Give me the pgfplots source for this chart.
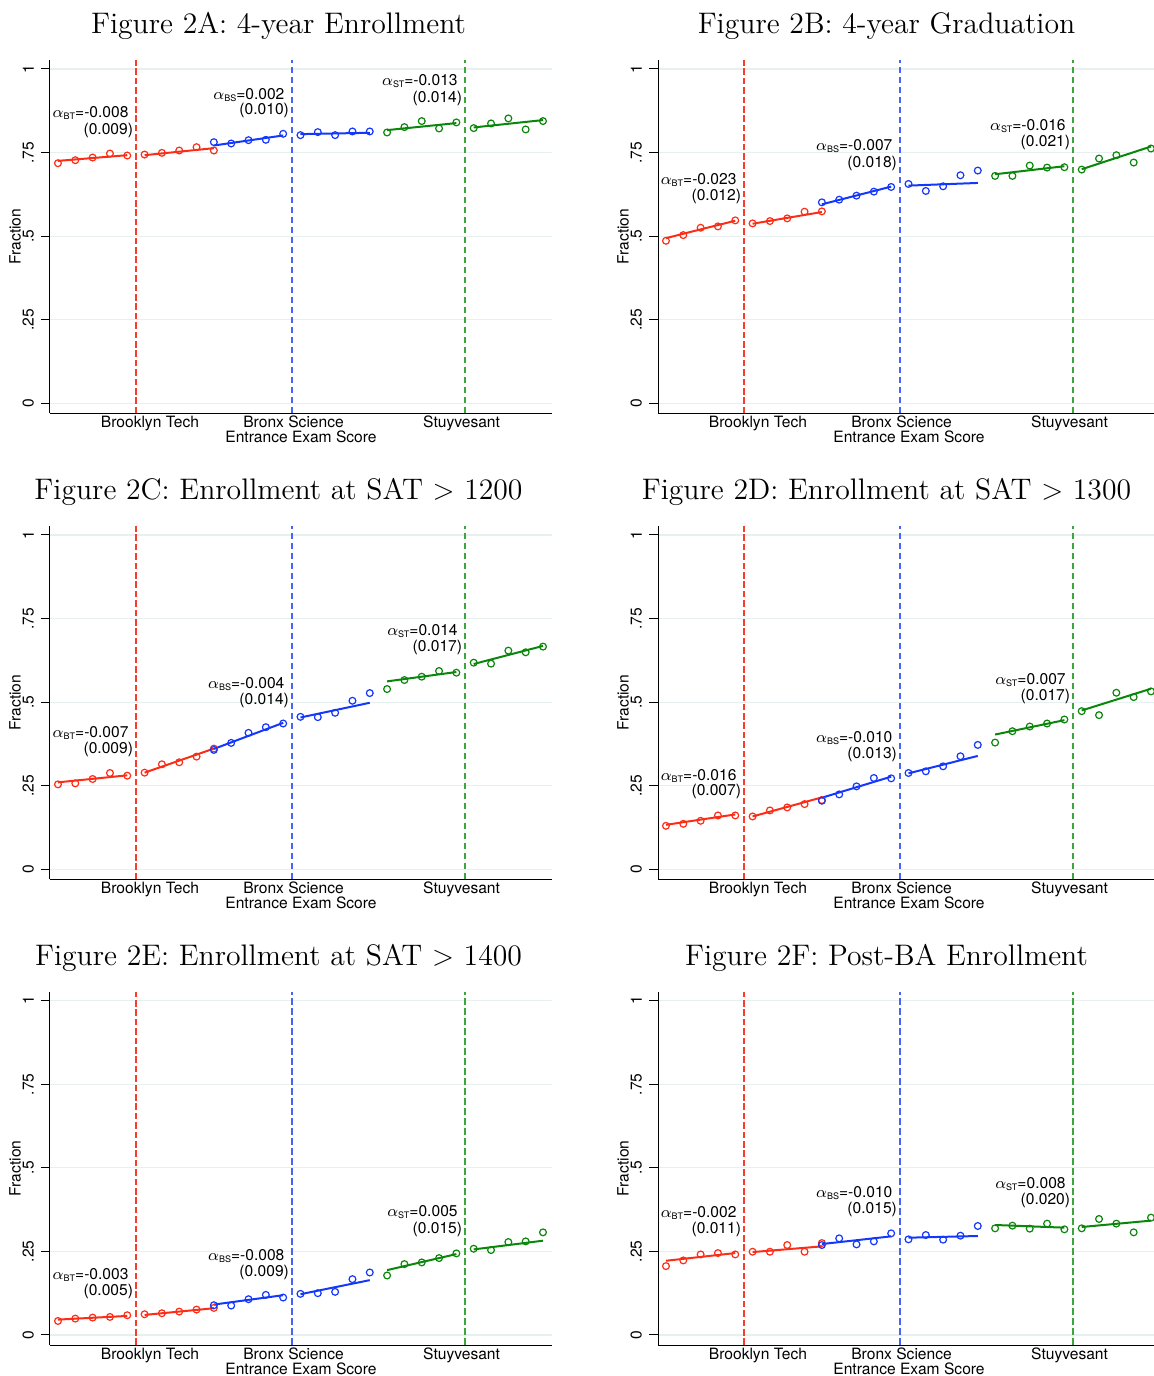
\documentclass[border=0pt]{standalone}
\usepackage{pgfplots}
\pgfplotsset{compat=1.18}
\usepackage{fontspec}
\newfontfamily\hv{TeX Gyre Heros}
\newcommand{\lab}{\hv\fontsize{7.8}{9}\selectfont}
\newcommand{\ttl}{\fontsize{14.85}{17}\selectfont}

\definecolor{sred}{RGB}{252,45,22}
\definecolor{sblue}{RGB}{20,55,252}
\definecolor{sgreen}{RGB}{10,135,10}
\definecolor{dred}{RGB}{252,60,40}
\definecolor{dblue}{RGB}{70,100,250}
\definecolor{dgreen}{RGB}{60,165,60}
\definecolor{gridc}{RGB}{230,240,240}

\pgfplotsset{
  panel/.style={
    scale only axis, width=251pt, height=176.7pt, anchor=south west,
    xmin=-0.46, xmax=28.52, ymin=-0.03, ymax=1.027,
    axis x line*=bottom, axis y line*=left,
    axis line style={line width=0.5pt, black},
    tick align=outside, major tick length=4.5pt,
    ytick={0,0.25,0.5,0.75,1}, yticklabels={0,.25,.5,.75,1},
    yticklabel style={rotate=90, anchor=south, font=\lab},
    ymajorgrids, grid style={gridc, line width=0.6pt},
    y tick style={black, line width=0.5pt},
    xtick={5.31,13.6,23.3},
    xticklabels={Brooklyn Tech, Bronx Science, Stuyvesant},
    xticklabel style={anchor=base, yshift=-2.8pt, font=\lab},
    x tick style={draw=none},
    xlabel={Entrance Exam Score}, ylabel={Fraction},
    xlabel style={at={(axis description cs:0.5,-0.0668)}, anchor=center, inner sep=0pt, font=\lab},
    ylabel style={at={(axis description cs:-0.0697,0.5)}, anchor=center, font=\lab},
  },
  pr/.style={only marks, mark=o, mark size=1.7pt, sred, mark options={line width=0.6pt}},
  pb/.style={only marks, mark=o, mark size=1.7pt, sblue, mark options={line width=0.6pt}},
  pg/.style={only marks, mark=o, mark size=1.7pt, sgreen, mark options={line width=0.6pt}},
  fr/.style={no marks, sred, line width=1pt},
  fb/.style={no marks, sblue, line width=1pt},
  fg/.style={no marks, sgreen, line width=1pt},
  cr/.style={no marks, dred, line width=0.6pt, dash pattern=on 3.3pt off 1.4pt},
  cb/.style={no marks, dblue, line width=0.8pt, dash pattern=on 3.4pt off 1.6pt},
  cg/.style={no marks, dgreen, line width=0.7pt, dash pattern=on 3.4pt off 1.6pt},
}

% cutoff lines at 4.5, 13.5, 23.5
\newcommand{\cutoffs}{%
  \addplot[cr] coordinates {(4.5,-0.03) (4.5,1.027)};
  \addplot[cb] coordinates {(13.5,-0.03) (13.5,1.027)};
  \addplot[cg] coordinates {(23.5,-0.03) (23.5,1.027)};
}

% small lowered subscript after alpha
\newcommand{\sub}[1]{\raisebox{-0.9pt}{\fontsize{4.5}{5}\selectfont #1}}

% #1 cutoff x (px), #2 y line 1, #3 y line 2, #4 subscript, #5 coef, #6 se
\newcommand{\ann}[6]{%
  \node[anchor=east, inner sep=0pt, font=\lab] at ({#1-7},#2) {$\alpha$\sub{#4}=#5};
  \node[anchor=east, inner sep=0pt, font=\lab] at ({#1-2.5},#3) {(#6)};
}

\begin{document}
\begin{tikzpicture}[x=0.5pt, y=-0.5pt]
\useasboundingbox (0,0) rectangle (1154,1376);

% ---------------- 2A
\begin{axis}[panel, at={(25pt,-206.65pt)}]
\cutoffs
\addplot[pr] coordinates {(0,0.718)(1,0.727)(2,0.735)(3,0.747)(4,0.741)(5,0.744)(6,0.749)(7,0.756)(8,0.766)(9,0.756)};
\addplot[fr] coordinates {(0,0.725)(4,0.742)};
\addplot[fr] coordinates {(5,0.742)(9,0.763)};
\addplot[pb] coordinates {(9,0.781)(10,0.777)(11,0.787)(12,0.788)(13,0.806)(14,0.802)(15,0.811)(16,0.802)(17,0.813)(18,0.813)};
\addplot[fb] coordinates {(9,0.771)(13,0.801)};
\addplot[fb] coordinates {(14,0.805)(18,0.809)};
\addplot[pg] coordinates {(19,0.810)(20,0.826)(21,0.844)(22,0.822)(23,0.840)(24,0.823)(25,0.837)(26,0.852)(27,0.819)(28,0.844)};
\addplot[fg] coordinates {(19,0.817)(23,0.838)};
\addplot[fg] coordinates {(24,0.825)(28,0.847)};
\end{axis}

% ---------------- 2B
\begin{axis}[panel, at={(329pt,-206.65pt)}]
\cutoffs
\addplot[pr] coordinates {(0,0.486)(1,0.503)(2,0.525)(3,0.529)(4,0.547)(5,0.538)(6,0.545)(7,0.553)(8,0.573)(9,0.574)};
\addplot[fr] coordinates {(0,0.494)(4,0.546)};
\addplot[fr] coordinates {(5,0.537)(9,0.572)};
\addplot[pb] coordinates {(9,0.601)(10,0.609)(11,0.621)(12,0.633)(13,0.647)(14,0.656)(15,0.635)(16,0.649)(17,0.682)(18,0.696)};
\addplot[fb] coordinates {(9,0.595)(13,0.648)};
\addplot[fb] coordinates {(14,0.651)(18,0.659)};
\addplot[pg] coordinates {(19,0.680)(20,0.680)(21,0.711)(22,0.705)(23,0.706)(24,0.699)(25,0.732)(26,0.742)(27,0.720)(28,0.762)};
\addplot[fg] coordinates {(19,0.685)(23,0.709)};
\addplot[fg] coordinates {(24,0.700)(28,0.768)};
\end{axis}

% ---------------- 2C
\begin{axis}[panel, at={(25pt,-439.65pt)}]
\cutoffs
\addplot[pr] coordinates {(0,0.254)(1,0.257)(2,0.270)(3,0.288)(4,0.280)(5,0.289)(6,0.314)(7,0.320)(8,0.337)(9,0.361)};
\addplot[fr] coordinates {(0,0.260)(4,0.281)};
\addplot[fr] coordinates {(5,0.289)(9,0.361)};
\addplot[pb] coordinates {(9,0.357)(10,0.378)(11,0.408)(12,0.425)(13,0.436)(14,0.456)(15,0.455)(16,0.468)(17,0.504)(18,0.527)};
\addplot[fb] coordinates {(9,0.360)(13,0.438)};
\addplot[fb] coordinates {(14,0.454)(18,0.498)};
\addplot[pg] coordinates {(19,0.539)(20,0.566)(21,0.576)(22,0.593)(23,0.588)(24,0.618)(25,0.615)(26,0.654)(27,0.649)(28,0.666)};
\addplot[fg] coordinates {(19,0.562)(23,0.590)};
\addplot[fg] coordinates {(24,0.614)(28,0.668)};
\end{axis}

% ---------------- 2D
\begin{axis}[panel, at={(329pt,-439.65pt)}]
\cutoffs
\addplot[pr] coordinates {(0,0.130)(1,0.136)(2,0.145)(3,0.161)(4,0.161)(5,0.158)(6,0.176)(7,0.185)(8,0.195)(9,0.207)};
\addplot[fr] coordinates {(0,0.133)(4,0.164)};
\addplot[fr] coordinates {(5,0.158)(9,0.215)};
\addplot[pb] coordinates {(9,0.205)(10,0.224)(11,0.248)(12,0.273)(13,0.272)(14,0.288)(15,0.293)(16,0.308)(17,0.338)(18,0.372)};
\addplot[fb] coordinates {(9,0.214)(13,0.277)};
\addplot[fb] coordinates {(14,0.287)(18,0.339)};
\addplot[pg] coordinates {(19,0.379)(20,0.413)(21,0.427)(22,0.436)(23,0.448)(24,0.473)(25,0.461)(26,0.528)(27,0.515)(28,0.532)};
\addplot[fg] coordinates {(19,0.403)(23,0.446)};
\addplot[fg] coordinates {(24,0.475)(28,0.540)};
\end{axis}

% ---------------- 2E
\begin{axis}[panel, at={(25pt,-672.5pt)}]
\cutoffs
\addplot[pr] coordinates {(0,0.042)(1,0.049)(2,0.052)(3,0.054)(4,0.059)(5,0.062)(6,0.065)(7,0.070)(8,0.076)(9,0.081)};
\addplot[fr] coordinates {(0,0.046)(4,0.057)};
\addplot[fr] coordinates {(5,0.060)(9,0.080)};
\addplot[pb] coordinates {(9,0.089)(10,0.088)(11,0.107)(12,0.120)(13,0.112)(14,0.123)(15,0.125)(16,0.129)(17,0.167)(18,0.187)};
\addplot[fb] coordinates {(9,0.091)(13,0.119)};
\addplot[fb] coordinates {(14,0.122)(18,0.164)};
\addplot[pg] coordinates {(19,0.178)(20,0.212)(21,0.217)(22,0.230)(23,0.244)(24,0.258)(25,0.254)(26,0.278)(27,0.280)(28,0.307)};
\addplot[fg] coordinates {(19,0.194)(23,0.242)};
\addplot[fg] coordinates {(24,0.256)(28,0.282)};
\end{axis}

% ---------------- 2F
\begin{axis}[panel, at={(329pt,-672.5pt)}]
\cutoffs
\addplot[pr] coordinates {(0,0.206)(1,0.223)(2,0.241)(3,0.245)(4,0.241)(5,0.249)(6,0.249)(7,0.269)(8,0.249)(9,0.275)};
\addplot[fr] coordinates {(0,0.222)(4,0.245)};
\addplot[fr] coordinates {(5,0.248)(9,0.265)};
\addplot[pb] coordinates {(9,0.269)(10,0.289)(11,0.271)(12,0.280)(13,0.304)(14,0.286)(15,0.299)(16,0.285)(17,0.297)(18,0.326)};
\addplot[fb] coordinates {(9,0.272)(13,0.295)};
\addplot[fb] coordinates {(14,0.291)(18,0.296)};
\addplot[pg] coordinates {(19,0.319)(20,0.327)(21,0.318)(22,0.333)(23,0.316)(24,0.319)(25,0.347)(26,0.333)(27,0.307)(28,0.351)};
\addplot[fg] coordinates {(19,0.329)(23,0.321)};
\addplot[fg] coordinates {(24,0.323)(28,0.342)};
\end{axis}

% titles
\node[font=\ttl] at (278.5,26) {Figure 2A: 4-year Enrollment};
\node[font=\ttl] at (886.5,26) {Figure 2B: 4-year Graduation};
\node[font=\ttl] at (278.5,492) {Figure 2C: Enrollment at SAT $>$ 1200};
\node[font=\ttl] at (886.5,492) {Figure 2D: Enrollment at SAT $>$ 1300};
\node[font=\ttl] at (278.5,958) {Figure 2E: Enrollment at SAT $>$ 1400};
\node[font=\ttl] at (886.5,958) {Figure 2F: Post-BA Enrollment};

% coefficient labels
\ann{135.9}{113}{130}{BT}{-0.008}{0.009}
\ann{291.8}{95}{110}{BS}{0.002}{0.010}
\ann{465}{81}{98}{ST}{-0.013}{0.014}

\ann{743.9}{180}{196}{BT}{-0.023}{0.012}
\ann{899.8}{146}{163}{BS}{-0.007}{0.018}
\ann{1073}{126}{142}{ST}{-0.016}{0.021}

\ann{135.9}{733}{749}{BT}{-0.007}{0.009}
\ann{291.8}{684}{700}{BS}{-0.004}{0.014}
\ann{465}{631}{647}{ST}{0.014}{0.017}

\ann{743.9}{776}{791}{BT}{-0.016}{0.007}
\ann{899.8}{738}{754}{BS}{-0.010}{0.013}
\ann{1073}{680}{696}{ST}{0.007}{0.017}

\ann{135.9}{1275}{1291}{BT}{-0.003}{0.005}
\ann{291.8}{1256}{1272}{BS}{-0.008}{0.009}
\ann{465}{1212}{1229}{ST}{0.005}{0.015}

\ann{743.9}{1213}{1229}{BT}{-0.002}{0.011}
\ann{899.8}{1193}{1209}{BS}{-0.010}{0.015}
\ann{1073}{1184}{1200}{ST}{0.008}{0.020}
\end{tikzpicture}
\end{document}
